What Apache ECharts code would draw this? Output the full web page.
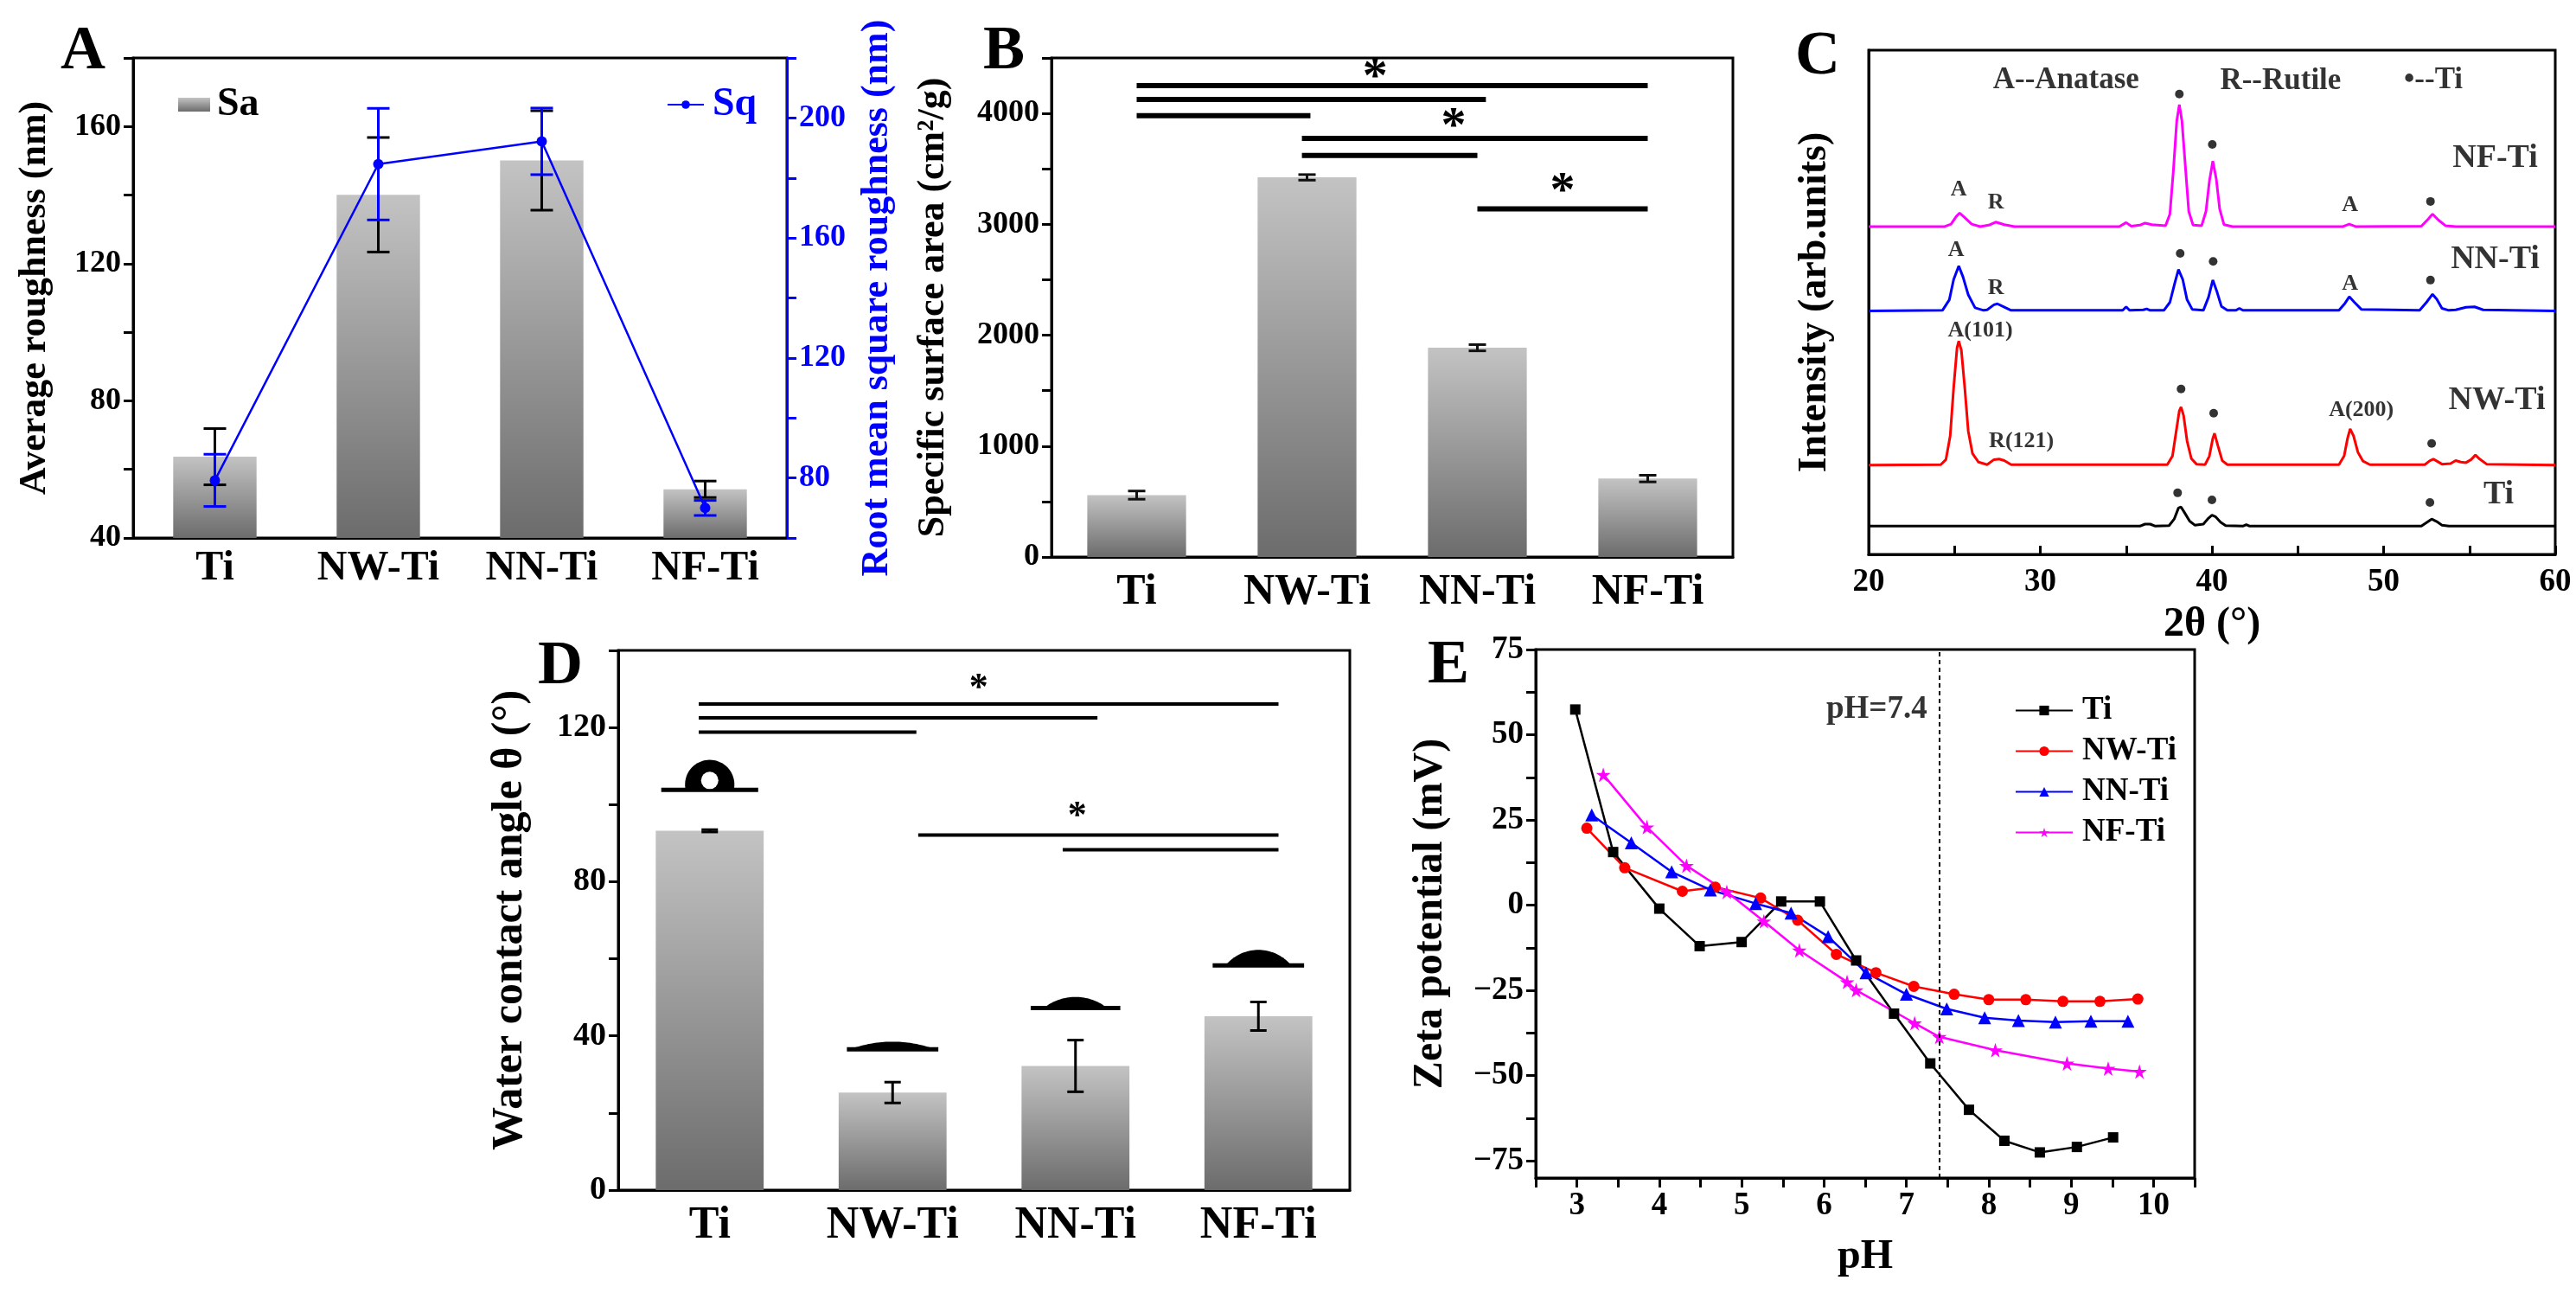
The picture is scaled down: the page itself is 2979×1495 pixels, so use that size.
<!DOCTYPE html>
<html>
<head>
<meta charset="utf-8">
<script src="https://cdn.jsdelivr.net/npm/echarts@6/dist/echarts.min.js"></script>
<style>html,body{margin:0;padding:0;background:#fff}#chart{width:2979px;height:1495px}</style>
</head>
<body>
<div id="chart"></div>
<script>
var FONT = 'Liberation Serif';
var samples = ['Ti', 'NW-Ti', 'NN-Ti', 'NF-Ti'];

// A - roughness
var saVals = [63.7, 140.1, 150.1, 54.2];
var saErr = [8.2, 16.7, 14.5, 2.4];
var sqVals = [79.2, 184.6, 192.2, 70.0];
var sqErr = [8.7, 18.6, 11.1, 2.5];

// B - specific surface area
var ssaVals = [558, 3423, 1887, 707];
var ssaErr = [37, 25, 28, 30];
var ssaSig = [[0, 3, 4250], [0, 2.05, 4125], [0, 1.02, 3980], [0.97, 3, 3775], [0.97, 2, 3620], [2, 3, 3140]];
var ssaStars = [[1.40, 4310], [1.86, 3865], [2.5, 3280]];

// C - XRD (arb. units, curves offset)
var xrdTi = [[20, 5.6], [35.8, 5.6], [36.1, 6.0], [36.4, 6.0], [36.7, 5.6], [37.5, 5.7], [37.8, 7.0], [38.05, 9.2], [38.2, 9.4], [38.4, 8.3], [38.7, 6.6], [39.0, 5.8], [39.5, 6.0], [39.8, 7.2], [40.0, 7.8], [40.2, 7.5], [40.5, 6.4], [40.8, 5.7], [41.8, 5.6], [42.0, 5.9], [42.2, 5.6], [52.2, 5.6], [52.5, 6.3], [52.8, 7.0], [53.1, 6.5], [53.4, 5.8], [53.8, 5.6], [60, 5.6]];
var xrdNW = [[20, 17.7], [24.2, 17.8], [24.5, 18.8], [24.75, 23.5], [24.95, 33], [25.15, 41], [25.25, 42.3], [25.4, 40.5], [25.6, 33], [25.8, 24.5], [26.05, 20.0], [26.4, 18.3], [26.9, 17.8], [27.3, 18.8], [27.6, 18.9], [27.9, 18.6], [28.3, 17.8], [34.9, 17.8], [35.0, 18.1], [35.2, 17.8], [37.4, 17.8], [37.7, 19.5], [37.9, 24], [38.1, 28.5], [38.2, 29.2], [38.35, 27.5], [38.55, 22.5], [38.8, 19.0], [39.1, 17.9], [39.6, 17.8], [39.85, 19.5], [40.05, 23.0], [40.15, 24.0], [40.35, 21.5], [40.6, 18.6], [40.9, 17.8], [47.4, 17.8], [47.7, 19.5], [47.9, 23], [48.05, 24.9], [48.25, 23.5], [48.5, 20.3], [48.8, 18.5], [49.2, 17.8], [52.4, 17.8], [52.7, 18.6], [52.9, 18.9], [53.1, 18.5], [53.4, 17.9], [53.9, 18.0], [54.2, 18.6], [54.5, 18.3], [54.8, 18.2], [55.1, 18.8], [55.35, 19.7], [55.6, 18.9], [56.0, 17.9], [60, 17.7]];
var xrdNN = [[20, 48.3], [24.3, 48.4], [24.7, 50.5], [24.95, 54.5], [25.25, 57.2], [25.5, 55.0], [25.8, 51.5], [26.2, 48.9], [26.7, 48.4], [26.9, 48.5], [27.3, 49.5], [27.5, 49.7], [27.8, 49.2], [28.3, 48.4], [34.8, 48.4], [35.0, 49.1], [35.2, 48.4], [36.0, 48.5], [36.2, 48.7], [36.4, 48.4], [37.2, 48.4], [37.55, 50], [37.85, 54], [38.05, 56.5], [38.3, 54.5], [38.55, 50.5], [38.85, 48.6], [39.5, 48.4], [39.8, 51], [40.05, 54.4], [40.3, 52], [40.55, 49.2], [40.9, 48.4], [41.4, 48.4], [41.6, 48.8], [41.8, 48.4], [47.4, 48.4], [47.75, 49.8], [48.0, 51.1], [48.3, 50.0], [48.7, 48.6], [52.1, 48.4], [52.5, 50.0], [52.85, 51.6], [53.1, 50.6], [53.4, 48.8], [53.8, 48.4], [54.2, 48.5], [54.8, 49.0], [55.3, 49.1], [55.8, 48.5], [60, 48.3]];
var xrdNF = [[20, 65.0], [24.4, 65.0], [24.8, 65.5], [25.1, 67.0], [25.3, 67.7], [25.6, 66.8], [26.0, 65.5], [26.5, 65.0], [27.0, 65.3], [27.4, 65.9], [27.9, 65.4], [28.5, 65.0], [34.6, 65.0], [35.0, 65.8], [35.3, 65.1], [35.8, 65.3], [36.1, 65.7], [36.5, 65.4], [37.3, 65.2], [37.55, 67.5], [37.75, 76], [37.95, 86], [38.1, 89.2], [38.25, 86], [38.45, 77], [38.65, 68], [38.9, 65.3], [39.4, 65.2], [39.65, 68], [39.85, 74], [40.05, 78], [40.25, 74.5], [40.45, 68.5], [40.7, 65.4], [41.2, 65.0], [47.6, 65.0], [48.0, 65.5], [48.4, 65.0], [52.2, 65.1], [52.6, 66.5], [52.85, 67.5], [53.2, 66.3], [53.6, 65.2], [54.2, 65.0], [60, 65.0]];
var xrdDots = [[38.10, 91.3], [40.02, 81.3], [52.73, 70.0], [38.15, 59.7], [40.07, 58.1], [52.73, 54.4], [38.2, 32.8], [40.1, 28.0], [52.8, 22.0], [38.0, 12.2], [40.0, 10.8], [52.7, 10.3]];
var xrdPeakText = [[25.24, 72.4, 'A'], [27.41, 69.8, 'R'], [48.04, 69.3, 'A'], [25.09, 60.4, 'A'], [27.41, 52.8, 'R'], [48.04, 53.7, 'A'], [26.5, 44.3, 'A(101)'], [28.9, 22.5, 'R(121)'], [48.7, 28.6, 'A(200)']];
var xrdNotes = [[31.5, 94.0, 'A--Anatase'], [44.0, 93.8, 'R--Rutile'], [52.9, 94.0, '\u2022--Ti']];
var xrdNames = [[56.5, 78.6, 'NF-Ti'], [56.5, 58.5, 'NN-Ti'], [56.6, 30.5, 'NW-Ti'], [56.7, 11.8, 'Ti']];

// D - water contact angle
var wcaVals = [93.2, 25.3, 32.2, 45.1];
var wcaErr = [0.3, 2.7, 6.7, 3.7];
var wcaSig = [[-0.06, 3.11, 126.1], [-0.06, 2.12, 122.5], [-0.06, 1.13, 118.8], [1.14, 3.11, 92.1], [1.93, 3.11, 88.3]];
var wcaStars = [[1.47, 130.0], [2.01, 96.7]];
// droplet: index, base angle, plate width, drop width (category units), drop height, hole
var drops = [[0, 103.8, 0.53, 0.27, 7.8, 1], [1, 36.5, 0.50, 0.47, 2.0, 0], [2, 47.2, 0.49, 0.35, 2.9, 0], [3, 58.3, 0.50, 0.36, 4.0, 0]];

// E - zeta potential
var zetaTi = [[2.98, 57.4], [3.44, 15.6], [4.00, -1.0], [4.49, -12.0], [5.00, -10.8], [5.48, 1.1], [5.95, 1.1], [6.39, -16.2], [6.85, -31.8], [7.29, -46.4], [7.76, -60.0], [8.19, -69.1], [8.62, -72.5], [9.07, -70.9], [9.51, -68.1]];
var zetaNW = [[3.12, 22.6], [3.58, 11.0], [4.28, 4.1], [4.68, 5.3], [5.23, 2.1], [5.68, -4.4], [6.15, -14.4], [6.63, -19.8], [7.09, -23.8], [7.58, -26.1], [8.00, -27.7], [8.45, -27.7], [8.90, -28.2], [9.35, -28.2], [9.81, -27.5]];
var zetaNN = [[3.18, 26.5], [3.66, 18.3], [4.15, 9.8], [4.62, 4.5], [5.17, 0.5], [5.60, -2.3], [6.05, -9.2], [6.51, -19.8], [7.00, -26.1], [7.49, -30.4], [7.95, -33.0], [8.36, -33.8], [8.81, -34.3], [9.24, -34.0], [9.69, -34.0]];
var zetaNF = [[3.32, 38.3], [3.85, 22.9], [4.33, 11.6], [4.82, 3.9], [5.27, -4.7], [5.70, -13.2], [6.28, -22.5], [6.39, -24.9], [7.10, -34.6], [7.40, -38.6], [8.08, -42.5], [8.95, -46.4], [9.45, -47.9], [9.83, -48.8]];
var zetaYLabels = [-75, -50, -25, 0, 25, 50, 75];
var zetaYTicks = [-75, -62.5, -50, -37.5, -25, -12.5, 0, 12.5, 25, 37.5, 50, 62.5, 75];

var starPath = 'path://M50,0 L61,35 L98,35 L68,57 L79,91 L50,70 L21,91 L32,57 L2,35 L39,35 Z';

function grayFill() {
  return new echarts.graphic.LinearGradient(0, 0, 0, 1, [
    { offset: 0, color: '#c3c3c3' },
    { offset: 1, color: '#6c6c6c' }
  ]);
}

function errBar(capW, color, lw) {
  return function (params, api) {
    var x = api.value(0);
    var top = api.coord([x, api.value(2)]);
    var bot = api.coord([x, api.value(1)]);
    var h = capW / 2;
    var st = { stroke: color, lineWidth: lw };
    return {
      type: 'group', children: [
        { type: 'line', shape: { x1: top[0], y1: top[1], x2: bot[0], y2: bot[1] }, style: st },
        { type: 'line', shape: { x1: top[0] - h, y1: top[1], x2: top[0] + h, y2: top[1] }, style: st },
        { type: 'line', shape: { x1: bot[0] - h, y1: bot[1], x2: bot[0] + h, y2: bot[1] }, style: st }
      ]
    };
  };
}

function sigLine(lw) {
  return function (params, api) {
    var a = api.coord([api.value(0), api.value(2)]);
    var b = api.coord([api.value(1), api.value(2)]);
    return { type: 'line', shape: { x1: a[0], y1: a[1], x2: b[0], y2: b[1] }, style: { stroke: '#000', lineWidth: lw } };
  };
}

function starText(size) {
  return function (params, api) {
    var p = api.coord([api.value(0), api.value(1)]);
    return { type: 'text', x: p[0], y: p[1], style: { text: '*', font: 'bold ' + size + 'px ' + FONT, fill: '#000', align: 'center', verticalAlign: 'middle' } };
  };
}

function dropRender(params, api) {
  var c = api.coord([api.value(0), api.value(1)]);
  var bw = api.size([1, 0])[0];
  var plateW = api.value(2) * bw;
  var domeW = api.value(3) * bw;
  var h = api.size([0, api.value(4)])[1];
  var R, cy, half;
  if (h <= domeW / 2) {
    half = domeW / 2;
    R = (h * h + half * half) / (2 * h);
    cy = c[1] - h + R;
  } else {
    R = domeW / 2;
    cy = c[1] - h + R;
    half = Math.sqrt(Math.max(R * R - (c[1] - cy) * (c[1] - cy), 0));
  }
  var a0 = Math.atan2(c[1] - cy, -half);
  var a1 = Math.atan2(c[1] - cy, half);
  if (a1 < a0) a1 += Math.PI * 2;
  var pts = [];
  for (var k = 0; k <= 40; k++) {
    var t = a0 + (a1 - a0) * k / 40;
    pts.push([c[0] + R * Math.cos(t), cy + R * Math.sin(t)]);
  }
  var kids = [
    { type: 'polygon', shape: { points: pts }, style: { fill: '#000' } },
    { type: 'line', shape: { x1: c[0] - plateW / 2, y1: c[1], x2: c[0] + plateW / 2, y2: c[1] }, style: { stroke: '#000', lineWidth: 5 } }
  ];
  if (api.value(5) === 1) {
    kids.push({ type: 'circle', shape: { cx: c[0], cy: c[1] - 11, r: 10 }, style: { fill: '#fff' } });
  }
  return { type: 'group', children: kids };
}

function valLabels(size, fmt, color) {
  return { fontSize: size, fontWeight: 'bold', fontFamily: FONT, color: color || '#000', margin: 14, formatter: fmt };
}
var blackLine = { show: true, onZero: false, lineStyle: { color: '#000', width: 3 } };
var outTick = { show: true, inside: false, length: 11, lineStyle: { color: '#000', width: 3 } };
function nameStyle(size, color) {
  return { fontSize: size, fontWeight: 'bold', fontFamily: FONT, color: color || '#000' };
}
function catAxis(grid, size, margin) {
  return {
    type: 'category', gridIndex: grid, data: samples,
    axisTick: { show: false }, axisLine: blackLine,
    axisLabel: { interval: 0, hideOverlap: false, fontSize: size, fontWeight: 'bold', fontFamily: FONT, color: '#000', margin: margin }
  };
}
function labelScatter(arr, size, x, y) {
  return {
    type: 'scatter', xAxisIndex: x, yAxisIndex: y, symbolSize: 1, silent: true,
    itemStyle: { color: 'rgba(0,0,0,0)' },
    data: arr.map(function (d) { return { value: [d[0], d[1]], name: d[2] }; }),
    label: { show: true, position: 'inside', formatter: '{b}', fontSize: size, fontWeight: 'bold', fontFamily: FONT, color: '#000' }
  };
}
function zetaLine(name, data, color, symbol, size) {
  return {
    name: name, type: 'line', xAxisIndex: 6, yAxisIndex: 5, data: data,
    symbol: symbol, symbolSize: size, showSymbol: true,
    itemStyle: { color: color }, lineStyle: { color: color, width: 2.5 }
  };
}

var chart = echarts.init(document.getElementById('chart'));
var option = {
  backgroundColor: '#fff',
  animation: false,
  textStyle: { fontFamily: FONT, fontWeight: 'bold', color: '#000' },
  grid: [
    { left: 154, top: 67, width: 756, height: 555 },
    { left: 1216, top: 67, width: 788, height: 577 },
    { left: 2161, top: 58, width: 794, height: 583 },
    { left: 715, top: 752, width: 846, height: 624 },
    { left: 1776, top: 751, width: 762, height: 611 }
  ].map(function (g) {
    g.show = true; g.borderColor = '#000'; g.borderWidth = 3;
    g.containLabel = false; g.outerBoundsMode = 'none';
    return g;
  }),
  legend: [
    {
      data: ['Sa'], left: 201, top: 93, icon: 'rect', itemWidth: 37, itemHeight: 16, selectedMode: false,
      textStyle: { fontSize: 46, fontWeight: 'bold', fontFamily: FONT, color: '#000', padding: [0, 0, 0, 3] }
    },
    {
      data: ['Sq'], left: 766, top: 93, itemWidth: 42, itemHeight: 12, selectedMode: false,
      textStyle: { fontSize: 46, fontWeight: 'bold', fontFamily: FONT, color: '#0000ff', padding: [0, 0, 0, 5] }
    },
    {
      data: ['Ti', 'NW-Ti', 'NN-Ti', 'NF-Ti'], orient: 'vertical', left: 2325, top: 798,
      itemWidth: 66, itemHeight: 14, itemGap: 10, selectedMode: false,
      textStyle: { fontSize: 37, lineHeight: 36, fontWeight: 'bold', fontFamily: FONT, color: '#000', padding: [0, 0, 0, 6] }
    }
  ],
  graphic: [
    ['A', 96, 60], ['B', 1161, 60], ['C', 2102, 66], ['D', 648, 771], ['E', 1675, 770]
  ].map(function (t) {
    return { type: 'text', x: t[1], y: t[2], style: { text: t[0], font: 'bold 72px ' + FONT, fill: '#000', align: 'center', verticalAlign: 'middle' } };
  }),
  xAxis: [
    catAxis(0, 48, 12),
    catAxis(1, 50, 16),
    { type: 'value', gridIndex: 1, min: -0.5, max: 3.5, show: false },
    {
      type: 'value', gridIndex: 2, min: 20, max: 60, interval: 5,
      name: '2\u03b8 (\u00b0)', nameLocation: 'middle', nameGap: 58, nameTextStyle: nameStyle(48),
      axisLine: blackLine, axisTick: { show: true, inside: true, length: 10, lineStyle: { color: '#000', width: 3 } },
      axisLabel: valLabels(37, function (v) { return v % 10 === 0 ? v : ''; }), splitLine: { show: false }
    },
    catAxis(3, 52, 16),
    { type: 'value', gridIndex: 3, min: -0.5, max: 3.5, show: false },
    {
      type: 'value', gridIndex: 4, min: 2.5, max: 10.5, interval: 0.5,
      name: 'pH', nameLocation: 'middle', nameGap: 68, nameTextStyle: nameStyle(48),
      axisLine: blackLine, axisTick: outTick,
      axisLabel: valLabels(37, function (v) { return Number.isInteger(v) ? v : ''; }), splitLine: { show: false }
    }
  ],
  yAxis: [
    {
      type: 'value', gridIndex: 0, min: 40, max: 180, interval: 20,
      name: 'Average roughness (nm)', nameLocation: 'middle', nameGap: 91, nameTextStyle: nameStyle(44),
      axisLine: blackLine, axisTick: outTick,
      axisLabel: valLabels(36, function (v) { return v % 40 === 0 ? v : ''; }), splitLine: { show: false }
    },
    {
      type: 'value', gridIndex: 0, position: 'right', min: 60, max: 220, interval: 20,
      name: 'Root mean square roughness (nm)', nameLocation: 'middle', nameRotate: 90, nameGap: 83,
      nameTextStyle: nameStyle(44, '#0000ff'),
      axisLine: { show: true, onZero: false, lineStyle: { color: '#0000ff', width: 3 } },
      axisTick: { show: true, inside: false, length: 11, lineStyle: { color: '#0000ff', width: 3 } },
      axisLabel: valLabels(36, function (v) { return (v - 80) % 40 === 0 ? v : ''; }, '#0000ff'), splitLine: { show: false }
    },
    {
      type: 'value', gridIndex: 1, min: 0, max: 4500, interval: 500,
      name: 'Specific surface area (cm\u00b2/g)', nameLocation: 'middle', nameGap: 114, nameTextStyle: nameStyle(44),
      axisLine: blackLine, axisTick: outTick,
      axisLabel: valLabels(36, function (v) { return v % 1000 === 0 ? v : ''; }), splitLine: { show: false }
    },
    {
      type: 'value', gridIndex: 2, min: 0, max: 100,
      name: 'Intensity (arb.units)', nameLocation: 'middle', nameGap: 39, nameTextStyle: nameStyle(46),
      axisLine: blackLine, axisTick: { show: false }, axisLabel: { show: false }, splitLine: { show: false }
    },
    {
      type: 'value', gridIndex: 3, min: 0, max: 140, interval: 20,
      name: 'Water contact angle \u03b8 (\u00b0)', nameLocation: 'middle', nameGap: 100, nameTextStyle: nameStyle(50),
      axisLine: blackLine, axisTick: outTick,
      axisLabel: valLabels(38, function (v) { return v % 40 === 0 ? v : ''; }), splitLine: { show: false }
    },
    {
      type: 'value', gridIndex: 4, min: -80, max: 75,
      name: 'Zeta potential (mV)', nameLocation: 'middle', nameGap: 97, nameTextStyle: nameStyle(48),
      axisLine: blackLine,
      axisTick: { show: true, inside: false, length: 11, customValues: zetaYTicks, lineStyle: { color: '#000', width: 3 } },
      axisLabel: {
        fontSize: 37, fontWeight: 'bold', fontFamily: FONT, color: '#000', margin: 14, customValues: zetaYLabels,
        formatter: function (v) { return String(v).replace('-', '\u2212'); }
      },
      splitLine: { show: false }
    }
  ],
  series: [
    // A
    { name: 'Sa', type: 'bar', xAxisIndex: 0, yAxisIndex: 0, data: saVals, barWidth: '51%', itemStyle: { color: grayFill() } },
    {
      type: 'custom', xAxisIndex: 0, yAxisIndex: 0, z: 3, renderItem: errBar(26, '#000', 3),
      data: saVals.map(function (v, i) { return [i, v - saErr[i], v + saErr[i]]; })
    },
    {
      name: 'Sq', type: 'line', xAxisIndex: 0, yAxisIndex: 1, data: sqVals, z: 5,
      symbol: 'circle', symbolSize: 12, itemStyle: { color: '#0000ff' }, lineStyle: { color: '#0000ff', width: 2.5 }
    },
    {
      type: 'custom', xAxisIndex: 0, yAxisIndex: 1, z: 4, renderItem: errBar(26, '#0000ff', 3),
      data: sqVals.map(function (v, i) { return [i, v - sqErr[i], v + sqErr[i]]; })
    },
    // B
    { name: 'SSA', type: 'bar', xAxisIndex: 1, yAxisIndex: 2, data: ssaVals, barWidth: '58%', itemStyle: { color: grayFill() } },
    {
      type: 'custom', xAxisIndex: 1, yAxisIndex: 2, z: 3, renderItem: errBar(20, '#111', 3),
      data: ssaVals.map(function (v, i) { return [i, v - ssaErr[i], v + ssaErr[i]]; })
    },
    { type: 'custom', xAxisIndex: 2, yAxisIndex: 2, z: 3, renderItem: sigLine(6), data: ssaSig },
    { type: 'custom', xAxisIndex: 2, yAxisIndex: 2, z: 3, renderItem: starText(58), data: ssaStars },
    // C
    { name: 'XRD Ti', type: 'line', xAxisIndex: 3, yAxisIndex: 3, data: xrdTi, showSymbol: false, lineStyle: { color: '#000', width: 3 } },
    { name: 'XRD NW-Ti', type: 'line', xAxisIndex: 3, yAxisIndex: 3, data: xrdNW, showSymbol: false, lineStyle: { color: '#ff0000', width: 3 } },
    { name: 'XRD NN-Ti', type: 'line', xAxisIndex: 3, yAxisIndex: 3, data: xrdNN, showSymbol: false, lineStyle: { color: '#0000ff', width: 3 } },
    { name: 'XRD NF-Ti', type: 'line', xAxisIndex: 3, yAxisIndex: 3, data: xrdNF, showSymbol: false, lineStyle: { color: '#ff00ff', width: 3 } },
    { type: 'scatter', xAxisIndex: 3, yAxisIndex: 3, data: xrdDots, symbol: 'circle', symbolSize: 10, itemStyle: { color: '#000' }, silent: true },
    labelScatter(xrdPeakText, 26, 3, 3),
    labelScatter(xrdNotes, 35, 3, 3),
    labelScatter(xrdNames, 38, 3, 3),
    // D
    { name: 'WCA', type: 'bar', xAxisIndex: 4, yAxisIndex: 4, data: wcaVals, barWidth: '59%', itemStyle: { color: grayFill() } },
    {
      type: 'custom', xAxisIndex: 4, yAxisIndex: 4, z: 3, renderItem: errBar(19, '#000', 3),
      data: wcaVals.map(function (v, i) { return [i, v - wcaErr[i], v + wcaErr[i]]; })
    },
    { type: 'custom', xAxisIndex: 5, yAxisIndex: 4, z: 3, renderItem: sigLine(4), data: wcaSig },
    { type: 'custom', xAxisIndex: 5, yAxisIndex: 4, z: 3, renderItem: starText(44), data: wcaStars },
    { type: 'custom', xAxisIndex: 4, yAxisIndex: 4, z: 3, renderItem: dropRender, data: drops },
    // E
    (function () {
      var s = zetaLine('Ti', zetaTi, '#000', 'rect', 12);
      s.markLine = {
        silent: true, symbol: 'none', label: { show: false },
        lineStyle: { color: '#000', width: 2, type: [5, 4] },
        data: [{ xAxis: 7.4 }]
      };
      return s;
    })(),
    zetaLine('NW-Ti', zetaNW, '#ff0000', 'circle', 13),
    zetaLine('NN-Ti', zetaNN, '#0000ff', 'triangle', 15),
    zetaLine('NF-Ti', zetaNF, '#ff00ff', starPath, 17),
    labelScatter([[6.64, 57.4, 'pH=7.4']], 37, 6, 5)
  ]
};
chart.setOption(option);
</script>
</body>
</html>
